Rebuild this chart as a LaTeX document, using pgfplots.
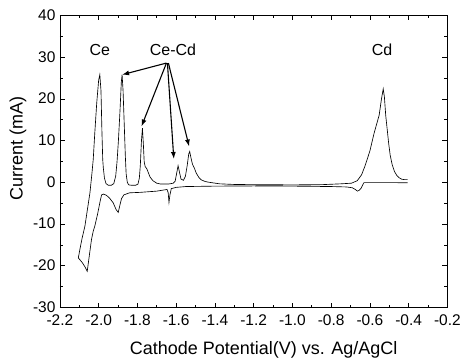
\documentclass[border=0pt]{standalone}
\usepackage{pgfplots}
\pgfplotsset{compat=1.18}
\usepackage{fontspec}
\setmainfont{Liberation Sans}
\usetikzlibrary{arrows.meta,calc}
\begin{document}
\begin{tikzpicture}
\begin{axis}[
  scale only axis,
  width=388pt, height=292.5pt,
  xmin=-2.2, xmax=-0.2, ymin=-30, ymax=40,
  xtick={-2.2,-2.0,...,-0.19}, ytick={-30,-20,...,40},
  minor x tick num=1, minor y tick num=1,
  tick align=inside,
  major tick length=5pt, minor tick length=3pt,
  xtick pos=both, ytick pos=both,
  axis line style={line width=0.8pt},
  every tick/.style={black, line width=0.7pt},
  xticklabel style={yshift=-3.5pt, /pgf/number format/fixed, /pgf/number format/fixed zerofill, /pgf/number format/precision=1, /pgf/number format/assume math mode=true},
  yticklabel style={/pgf/number format/assume math mode=true, xshift=-1pt, yshift=0.5pt},
  tick label style={font=\fontsize{15.5}{18}\selectfont},
  xlabel={Cathode Potential(V) vs. Ag/AgCl},
  ylabel={Current (mA)},
  xlabel style={font=\fontsize{18}{21}\selectfont, at={(axis description cs:0.526,-0.161)}, anchor=base},
  ylabel style={font=\fontsize{18}{21}\selectfont, at={(axis description cs:-0.108,0.544)}, anchor=center, rotate=0},
  clip=false,
]
\addplot[black, line width=0.65pt] coordinates {
(-0.405,-0.1) (-0.5,-0.05) (-0.63,-0.05) (-0.637,-0.6) (-0.645,-1.4) (-0.655,-1.9) (-0.664,-2.1)
(-0.675,-1.7) (-0.69,-1.3) (-0.72,-1.1) (-0.8,-1.0) (-1.0,-0.9) (-1.2,-0.85) (-1.4,-0.9)
(-1.55,-1.0) (-1.6,-1.2) (-1.625,-1.5) (-1.632,-3.0) (-1.637,-4.8) (-1.641,-2.5) (-1.647,-1.7)
(-1.7,-2.1) (-1.788,-2.4) (-1.84,-2.5) (-1.87,-3.0) (-1.882,-3.9) (-1.892,-5.8) (-1.899,-7.2)
(-1.91,-6.5) (-1.925,-4.9) (-1.945,-3.7) (-1.96,-3.1) (-1.975,-2.8) (-1.985,-3.0) (-1.994,-4.9)
(-2.005,-7.5) (-2.02,-10.5) (-2.028,-11.7) (-2.037,-13.7) (-2.048,-17.5) (-2.059,-21.3)
(-2.07,-20.3) (-2.085,-19.2) (-2.105,-18.1)
(-2.097,-16.1) (-2.085,-13.3) (-2.071,-10.5) (-2.058,-6.5) (-2.045,-2.5) (-2.035,2.0)
(-2.028,5.5) (-2.02,11.8) (-2.01,19) (-2.0,24.5) (-1.994,25.8) (-1.988,22) (-1.983,12)
(-1.979,5.5) (-1.976,3.5) (-1.97,1.0) (-1.962,-0.3) (-1.95,-0.7) (-1.935,-0.7) (-1.922,-0.3)
(-1.912,1.5) (-1.905,5) (-1.898,10) (-1.89,17) (-1.883,24) (-1.879,25.8) (-1.874,22)
(-1.868,14) (-1.862,6) (-1.858,2) (-1.852,0) (-1.845,-0.6) (-1.83,-0.7) (-1.81,-0.7)
(-1.797,-0.4) (-1.79,1) (-1.785,4) (-1.779,10) (-1.774,13.0) (-1.769,9) (-1.765,5)
(-1.76,3.8) (-1.752,3.3) (-1.745,2.5) (-1.735,1.3) (-1.72,0.4) (-1.70,-0.2) (-1.68,-0.4)
(-1.64,-0.4) (-1.615,-0.2) (-1.605,0.3) (-1.598,2) (-1.59,4.0) (-1.583,2.5) (-1.575,0.8)
(-1.562,0.5) (-1.552,1.5) (-1.543,4) (-1.535,6.8) (-1.53,7.4) (-1.524,6) (-1.516,4.4)
(-1.505,3.3) (-1.496,2.2) (-1.483,1.2) (-1.47,0.6) (-1.45,0.2) (-1.427,0) (-1.375,-0.35)
(-1.3,-0.5) (-1.2,-0.55) (-1.0,-0.6) (-0.85,-0.55) (-0.75,-0.35) (-0.695,-0.2) (-0.665,0.4)
(-0.643,1.8) (-0.626,3.8) (-0.60,7.5) (-0.578,11.8) (-0.552,16.1) (-0.54,20) (-0.531,22.4)
(-0.525,20.5) (-0.518,16) (-0.51,12.5) (-0.503,9.4) (-0.495,6.5) (-0.485,4.3) (-0.473,2.6)
(-0.46,1.6) (-0.447,1.05) (-0.435,0.75) (-0.42,0.65) (-0.405,0.65)
};
\node[font=\fontsize{16}{19}\selectfont] at (axis cs:-1.994,31.7) {Ce};
\node[font=\fontsize{16}{19}\selectfont] at (axis cs:-1.616,31.7) {Ce-Cd};
\node[font=\fontsize{16}{19}\selectfont] at (axis cs:-0.537,31.7) {Cd};
\draw[line width=1.1pt, -{Latex[length=7pt,width=5pt]}] (axis cs:-1.65,28.6) -- (axis cs:-1.879,25.8);
\draw[line width=1.1pt, -{Latex[length=7pt,width=5pt]}] (axis cs:-1.65,28.6) -- (axis cs:-1.779,13.4);
\draw[line width=1.1pt, -{Latex[length=7pt,width=5pt]}] (axis cs:-1.645,28.6) -- (axis cs:-1.612,5.6);
\draw[line width=1.1pt, -{Latex[length=7pt,width=5pt]}] (axis cs:-1.64,28.6) -- (axis cs:-1.533,8.6);
\end{axis}
\path[use as bounding box] ($(current axis.south west)+(-60pt,-52pt)$) rectangle ($(current axis.north east)+(16pt,15.5pt)$);
\end{tikzpicture}
\end{document}
